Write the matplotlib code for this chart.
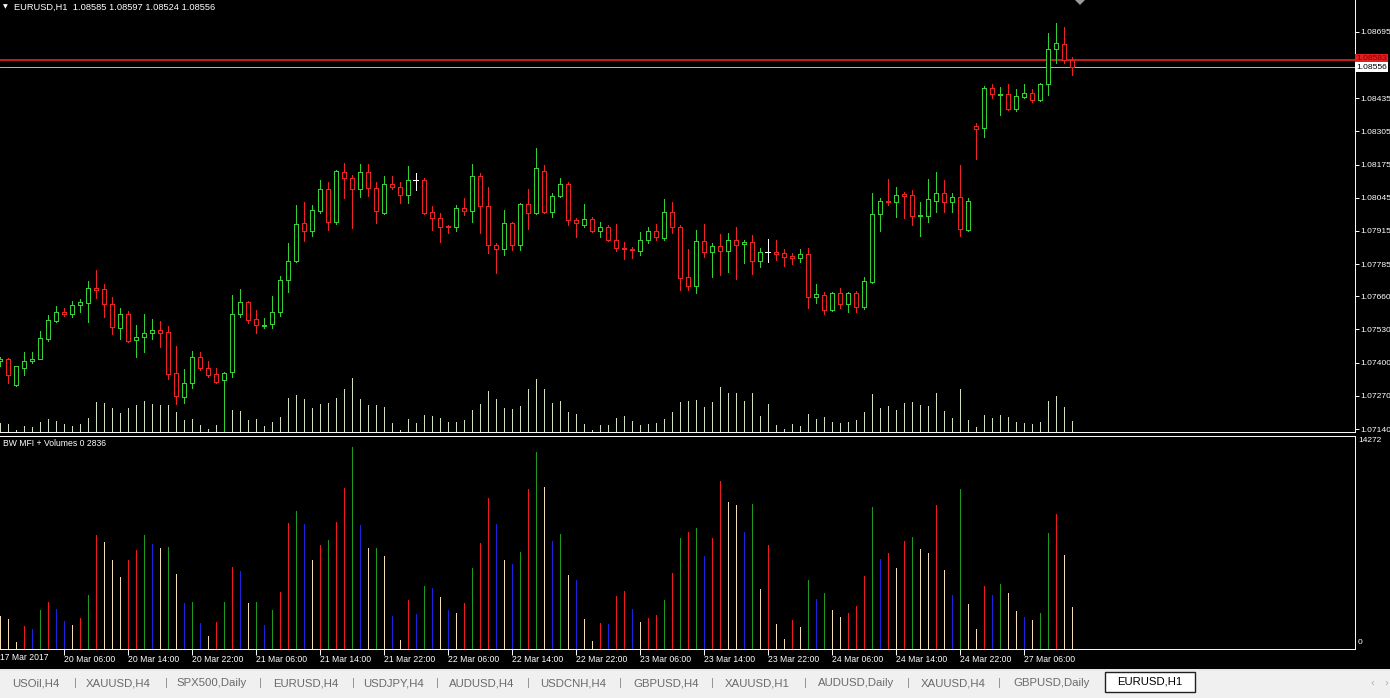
import numpy as np
import pandas as pd
import matplotlib
matplotlib.use("Agg")
import matplotlib.pyplot as plt
from matplotlib.patches import Rectangle, Polygon

plt.rcParams['font.family'] = ['Liberation Sans', 'DejaVu Sans']

# ---------------- data ----------------
symbol = "EURUSD,H1"
times = pd.date_range('2017-03-17 22:00', '2017-03-27 12:00', freq='h')
times = times[times.dayofweek < 5]

opens = [1.07406, 1.07413, 1.07312, 1.07380, 1.07405, 1.07413, 1.07492, 1.07563, 1.07599, 1.07589,
         1.07624, 1.07634, 1.07691, 1.07687, 1.07629, 1.07537, 1.07589, 1.07487, 1.07501, 1.07515,
         1.07526, 1.07520, 1.07358, 1.07266, 1.07319, 1.07420, 1.07380, 1.07354, 1.07332, 1.07362,
         1.07589, 1.07636, 1.07569, 1.07544, 1.07550, 1.07597, 1.07723, 1.07798, 1.07945, 1.07915,
         1.07994, 1.08078, 1.07951, 1.08147, 1.08121, 1.08078, 1.08147, 1.08082, 1.07987, 1.08098,
         1.08089, 1.08056, 1.08114, 1.08114, 1.07988, 1.07965, 1.07935, 1.07930, 1.08004, 1.07993,
         1.08130, 1.08013, 1.07860, 1.07844, 1.07945, 1.07860, 1.08019, 1.07984, 1.08150, 1.07990,
         1.08052, 1.08099, 1.07958, 1.07938, 1.07962, 1.07916, 1.07929, 1.07879, 1.07848, 1.07844,
         1.07838, 1.07880, 1.07915, 1.07889, 1.07988, 1.07929, 1.07734, 1.07700, 1.07876, 1.07834,
         1.07856, 1.07838, 1.07880, 1.07863, 1.07873, 1.07799, 1.07831, 1.07831, 1.07827, 1.07817,
         1.07810, 1.07825, 1.07655, 1.07664, 1.07606, 1.07673, 1.07629, 1.07671, 1.07619, 1.07714,
         1.07980, 1.08032, 1.08030, 1.08059, 1.08056, 1.07972, 1.07975, 1.08034, 1.08063, 1.08027,
         1.08049, 1.07919, 1.08326, 1.08317, 1.08476, 1.08447, 1.08450, 1.08391, 1.08440, 1.08454,
         1.08428, 1.08489, 1.08627, 1.08645, 1.08585]
highs = [1.07422, 1.07419, 1.07387, 1.07440, 1.07441, 1.07524, 1.07586, 1.07623, 1.07615, 1.07640,
         1.07648, 1.07719, 1.07762, 1.07708, 1.07655, 1.07612, 1.07603, 1.07547, 1.07590, 1.07569,
         1.07564, 1.07544, 1.07465, 1.07373, 1.07445, 1.07440, 1.07406, 1.07377, 1.07364, 1.07664,
         1.07687, 1.07641, 1.07606, 1.07573, 1.07661, 1.07738, 1.07867, 1.08017, 1.08030, 1.08017,
         1.08114, 1.08108, 1.08154, 1.08182, 1.08134, 1.08177, 1.08177, 1.08108, 1.08130, 1.08130,
         1.08108, 1.08169, 1.08141, 1.08121, 1.08014, 1.07987, 1.07938, 1.08017, 1.08045, 1.08177,
         1.08141, 1.08089, 1.07867, 1.07997, 1.07951, 1.08023, 1.08078, 1.08239, 1.08173, 1.08065,
         1.08123, 1.08108, 1.07965, 1.08021, 1.07971, 1.07951, 1.07938, 1.07942, 1.07873, 1.07853,
         1.07912, 1.07929, 1.07941, 1.08040, 1.08027, 1.07938, 1.07843, 1.07919, 1.07942, 1.07867,
         1.07904, 1.07909, 1.07930, 1.07880, 1.07900, 1.07848, 1.07883, 1.07880, 1.07843, 1.07827,
         1.07843, 1.07848, 1.07706, 1.07677, 1.07677, 1.07690, 1.07677, 1.07680, 1.07736, 1.08063,
         1.08043, 1.08117, 1.08088, 1.08069, 1.08075, 1.08027, 1.08117, 1.08145, 1.08114, 1.08063,
         1.08173, 1.08043, 1.08339, 1.08484, 1.08489, 1.08480, 1.08489, 1.08471, 1.08489, 1.08471,
         1.08495, 1.08689, 1.08728, 1.08715, 1.08597]
lows = [1.07387, 1.07321, 1.07308, 1.07351, 1.07398, 1.07413, 1.07486, 1.07560, 1.07582, 1.07580,
        1.07599, 1.07560, 1.07652, 1.07580, 1.07512, 1.07491, 1.07482, 1.07423, 1.07443, 1.07492,
        1.07460, 1.07334, 1.07238, 1.07240, 1.07299, 1.07371, 1.07345, 1.07321, 1.07130, 1.07342,
        1.07577, 1.07556, 1.07515, 1.07534, 1.07534, 1.07583, 1.07677, 1.07795, 1.07877, 1.07897,
        1.07984, 1.07919, 1.07941, 1.08045, 1.07926, 1.08049, 1.08052, 1.07945, 1.07982, 1.08078,
        1.08023, 1.08023, 1.08075, 1.07982, 1.07919, 1.07873, 1.07906, 1.07915, 1.07978, 1.07951,
        1.07909, 1.07829, 1.07749, 1.07821, 1.07840, 1.07840, 1.07922, 1.07982, 1.07985, 1.07971,
        1.08049, 1.07938, 1.07891, 1.07929, 1.07912, 1.07891, 1.07877, 1.07838, 1.07804, 1.07810,
        1.07821, 1.07867, 1.07880, 1.07879, 1.07906, 1.07684, 1.07684, 1.07671, 1.07814, 1.07736,
        1.07743, 1.07756, 1.07726, 1.07791, 1.07747, 1.07775, 1.07795, 1.07801, 1.07778, 1.07784,
        1.07795, 1.07615, 1.07632, 1.07590, 1.07603, 1.07612, 1.07599, 1.07599, 1.07610, 1.07710,
        1.07916, 1.08017, 1.07968, 1.07965, 1.07938, 1.07897, 1.07949, 1.07988, 1.07988, 1.07990,
        1.07897, 1.07915, 1.08197, 1.08284, 1.08434, 1.08369, 1.08389, 1.08386, 1.08434, 1.08419,
        1.08424, 1.08447, 1.08571, 1.08571, 1.08524]
closes = [1.07414, 1.07351, 1.07387, 1.07406, 1.07414, 1.07495, 1.07567, 1.07598, 1.07590, 1.07624,
          1.07637, 1.07692, 1.07684, 1.07628, 1.07540, 1.07589, 1.07486, 1.07499, 1.07517, 1.07526,
          1.07517, 1.07355, 1.07269, 1.07319, 1.07420, 1.07380, 1.07351, 1.07325, 1.07358, 1.07589,
          1.07636, 1.07567, 1.07546, 1.07547, 1.07597, 1.07723, 1.07798, 1.07941, 1.07915, 1.07997,
          1.08078, 1.07951, 1.08150, 1.08121, 1.08078, 1.08145, 1.08082, 1.07993, 1.08098, 1.08089,
          1.08056, 1.08113, 1.08114, 1.07984, 1.07965, 1.07930, 1.07930, 1.08004, 1.07993, 1.08130,
          1.08013, 1.07860, 1.07843, 1.07945, 1.07860, 1.08019, 1.07984, 1.08160, 1.07990, 1.08052,
          1.08099, 1.07958, 1.07945, 1.07961, 1.07915, 1.07930, 1.07880, 1.07848, 1.07843, 1.07840,
          1.07879, 1.07915, 1.07893, 1.07988, 1.07929, 1.07732, 1.07700, 1.07876, 1.07834, 1.07856,
          1.07838, 1.07880, 1.07860, 1.07873, 1.07799, 1.07831, 1.07831, 1.07826, 1.07814, 1.07811,
          1.07825, 1.07658, 1.07668, 1.07606, 1.07673, 1.07629, 1.07671, 1.07619, 1.07719, 1.07980,
          1.08032, 1.08027, 1.08056, 1.08053, 1.07974, 1.07978, 1.08040, 1.08063, 1.08030, 1.08049,
          1.07922, 1.08032, 1.08313, 1.08474, 1.08450, 1.08452, 1.08391, 1.08443, 1.08454, 1.08428,
          1.08490, 1.08627, 1.08649, 1.08586, 1.08556]

volumes = [2200, 2048, 473, 1555, 1332, 2616, 3197, 2724, 1893, 1622,
           2116, 3650, 7686, 7233, 6016, 4867, 6016, 6692, 7706, 7078,
           6807, 6915, 5090, 3089, 3177, 1778, 879, 1845, 3197, 5563,
           5273, 3130, 3197, 1622, 2616, 3873, 8538, 9329, 8430, 6016,
           7010, 7368, 8605, 10904, 13655, 8382, 6848, 6848, 6287, 2231,
           608, 3292, 2346, 4259, 4144, 3515, 2616, 2454, 3130, 5496,
           7186, 10228, 8430, 6016, 5766, 6577, 10796, 13337, 10971, 7301,
           7794, 5002, 4644, 2048, 541, 1778, 1670, 3583, 3921, 2684,
           1845, 2116, 2298, 3292, 5117, 7524, 7929, 8159, 6287, 7524,
           11357, 9957, 9734, 7929, 9782, 4036, 7010, 1670, 696, 1940,
           1487, 4644, 3360, 3765, 2636, 2163, 2413, 2907, 4935, 9619,
           6104, 6469, 5455, 7301, 7591, 6740, 6510, 9734, 5340, 3630,
           10796, 3062, 1332, 4259, 3630, 4374, 3806, 2569, 2183, 1960,
           2413, 7821, 9106, 6334, 2836]
# BW MFI colour codes: g = green, r = squat, b = fake, w = fade
mfi_codes = list("w"
                 "wwrbgrbbwr" "grwwwrrgbw" "gwbgbwrgrb" "wgbgrrgbwr" "grrgbwgwbw"
                 "rbgbwbwrgr" "rbwbgrgwbg" "wbwwrbrrbw" "rrgrgrgbrr" "wwbgwrwwrw"
                 "gbgwwrrrgb" "rwrgwwrwbg" "wwrbgwwbwg" "grww")

price_ticks = [1.08695, 1.08435, 1.08305, 1.08175, 1.08045, 1.07915,
               1.07785, 1.07660, 1.07530, 1.07400, 1.07270, 1.07140]
bid_price = 1.08556
line_price = 1.08583
mfi_max_label = 14272
header_vals = "1.08585 1.08597 1.08524 1.08556"
indicator_label = "BW MFI + Volumes 0 2836"
first_date_label = "17 Mar 2017"
tabs = ["USOil,H4", "XAUUSD,H4", "SPX500,Daily", "EURUSD,H4", "USDJPY,H4",
        "AUDUSD,H4", "USDCNH,H4", "GBPUSD,H4", "XAUUSD,H1", "AUDUSD,Daily",
        "XAUUSD,H4", "GBPUSD,Daily", "EURUSD,H1"]

# ---------------- layout ----------------
W, H = 1390, 698
def fx(px): return px / W
def fy(py): return 1 - py / H

BULL = '#34d034'
BEAR = '#ee2222'
DOJI = '#ffffff'
VOLC = '#cfe0bf'
MFI_COL = {'g': '#1f9a1f', 'r': '#ee1c1c', 'b': '#2020e0', 'w': '#f5deb3'}
LW = 0.7

fig = plt.figure(figsize=(W / 100, H / 100), dpi=100, facecolor='black')

n = len(opens)
x = np.arange(n)
xlim = (0.0625, 169.4375)
right_px = 1355

main_rect = [0, fy(432), fx(right_px), 432 / H]
axv = fig.add_axes(main_rect, facecolor='black')
axv.set_xlim(*xlim)
axv.set_ylim(0, 109000)
axv.vlines(x, 0, volumes, colors=VOLC, lw=LW, antialiased=False)
axv.axis('off')

ax = fig.add_axes(main_rect, facecolor='none')
ax.set_xlim(*xlim)
ax.set_ylim(1.071283, 1.088191)
o = np.array(opens); c = np.array(closes); hi = np.array(highs); lo = np.array(lows)
cols = np.where(c > o, BULL, np.where(c < o, BEAR, DOJI))
ax.vlines(x, lo, hi, colors=cols, lw=LW, zorder=2, antialiased=False)
for xi, oi, ci, col in zip(x, o, c, cols):
    if oi == ci:
        ax.hlines(oi, xi - 0.32, xi + 0.32, colors=col, lw=LW, zorder=3, antialiased=False)
    else:
        ax.add_patch(Rectangle((xi - 0.25, min(oi, ci)), 0.5, abs(ci - oi),
                               facecolor='black', edgecolor=col, lw=LW, zorder=3,
                               antialiased=False))
ax.axhline(line_price, color='#d42020', lw=1.3, zorder=1)
ax.axhline(bid_price, color='#b8b8b8', lw=LW, zorder=1)

ax.yaxis.tick_right()
ax.set_yticks(price_ticks)
ax.set_yticklabels([f"{p:.5f}" for p in price_ticks])
ax.tick_params(axis='y', colors='white', labelsize=6.1, length=3, width=LW, pad=1.2)
ax.set_xticks([])
for s in ['top', 'left']:
    ax.spines[s].set_visible(False)
for s in ['right', 'bottom']:
    ax.spines[s].set_color('white')
    ax.spines[s].set_linewidth(LW)

ytr = ax.get_yaxis_transform()
ax.text(1.0008, line_price + 0.00006, f"{line_price:.5f}", transform=ytr, fontsize=6.1,
        color='#8a0000', va='center', ha='left', clip_on=False,
        bbox=dict(boxstyle='square,pad=0.15', fc='#e02020', ec='none'))
ax.text(1.0008, bid_price, f"{bid_price:.5f}", transform=ytr, fontsize=6.1,
        color='black', va='center', ha='left', clip_on=False,
        bbox=dict(boxstyle='square,pad=0.15', fc='white', ec='none'))

# lower panel
ax2 = fig.add_axes([0, fy(649), fx(right_px), (649 - 436) / H], facecolor='black')
ax2.set_xlim(*xlim)
ax2.set_ylim(0, 14400)
ax2.vlines(x, 0, volumes, colors=[MFI_COL[k] for k in mfi_codes], lw=LW, antialiased=False)
ax2.set_yticks([])
ax2.spines['left'].set_visible(False)
for s in ['right', 'bottom', 'top']:
    ax2.spines[s].set_color('white')
    ax2.spines[s].set_linewidth(LW)

tick_idx = [i for i, t in enumerate(times) if t.hour in (6, 14, 22) and i > 0]
tick_lab = [f"{times[i].day} {times[i].strftime('%b %H:%M')}" for i in tick_idx]
ax2.set_xticks(tick_idx)
ax2.set_xticklabels(tick_lab, ha='left')
ax2.tick_params(axis='x', colors='white', labelsize=6.2, length=4, width=LW, pad=0.5)

fig.text(fx(0), fy(658), first_date_label, color='white', fontsize=6.2, va='center', ha='left')
fig.text(fx(1358), fy(441), str(mfi_max_label), color='white', fontsize=6.0, va='center', ha='left')
fig.text(fx(1358), fy(643), "0", color='white', fontsize=6.0, va='center', ha='left')
fig.text(fx(3), fy(443), indicator_label, color='white', fontsize=6.2, va='center', ha='left')

# header
fig.text(fx(3), fy(7), "\u25BC", color='white', fontsize=4.5, va='center', ha='left',
         family='DejaVu Sans')
fig.text(fx(14), fy(7), f"{symbol}  {header_vals}", color='white', fontsize=6.7,
         va='center', ha='left')
fig.patches.append(Polygon([[fx(1075), fy(0)], [fx(1085), fy(0)], [fx(1080), fy(5)]],
                           closed=True, transform=fig.transFigure, fc='#9a9a9a', ec='none'))

# separator line and tab bar
fig.patches.append(Rectangle((0, fy(671)), 1, 2 / H, transform=fig.transFigure,
                             fc='#e8e8e8', ec='none'))
axt = fig.add_axes([0, 0, 1, (698 - 671) / H], facecolor='#f0f0f0')
axt.set_xlim(0, W); axt.set_ylim(698, 671)
axt.axis('off')
axt.add_patch(Rectangle((0, 671), W, 27, fc='#f0f0f0', ec='none'))
tab_centers = [36, 118, 212, 306, 394, 482, 573, 666, 757, 856, 953, 1052, 1150]
seps = [75, 166, 260, 353, 437, 528, 620, 712, 805, 908, 999]
for name, cx in zip(tabs[:-1], tab_centers[:-1]):
    axt.text(cx, 683, name, color='#6a6a6a', fontsize=8.2, ha='center', va='center')
for sx in seps:
    axt.text(sx, 683, "|", color='#8a8a8a', fontsize=8.2, ha='center', va='center')
axt.add_patch(Rectangle((1105, 672), 90, 20, fc='white', ec='#202020', lw=1.0))
axt.text(tab_centers[-1], 682, tabs[-1], color='black', fontsize=8.2, ha='center', va='center')
axt.text(1372, 683, "\u2039", color='#b0b0b0', fontsize=8, ha='center', va='center')
axt.text(1386, 683, "\u203A", color='#b0b0b0', fontsize=8, ha='center', va='center')

fig.savefig("out.png", dpi=100, facecolor='black')
